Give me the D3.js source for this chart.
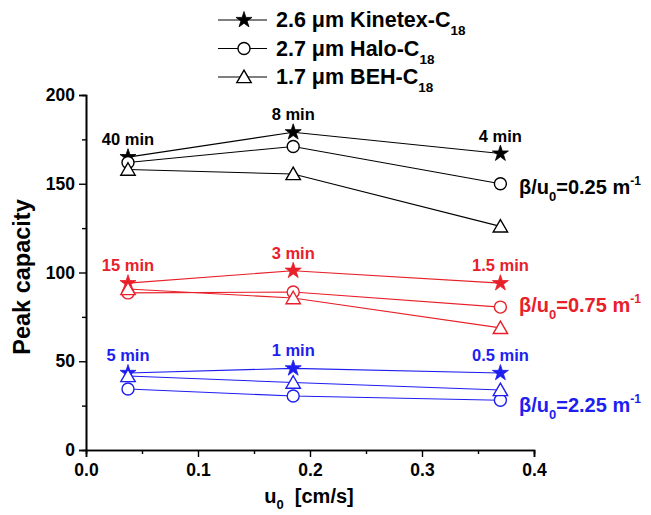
<!DOCTYPE html>
<html><head><meta charset="utf-8">
<script src="https://cdn.jsdelivr.net/npm/d3@7"></script>
<style>body{margin:0;background:#fff}text{font-family:Arial,"Liberation Sans",sans-serif;font-weight:bold}</style>
</head><body><svg id="c" width="651" height="515"></svg>
<script>
const uValues = [0.0375, 0.185, 0.37];
const groupNames = ["0.25", "0.75", "2.25"];
const groupColors = ["#000000", "#e8202a", "#1e1ef0"];
const timeLabels = [["40 min","8 min","4 min"],["15 min","3 min","1.5 min"],["5 min","1 min","0.5 min"]];
const kinetex = [[165,179,167],[94,101,94],[43.4,46,43.4]];
const halo = [[162,171,150],[88.5,89,80.5],[34.4,30.4,28]];
const beh = [[158,155.5,126],[90.7,85.6,68.8],[41.7,38,33.8]];
const xTicks = [0,0.1,0.2,0.3,0.4];
const yTicks = [0,50,100,150,200];
const legendNames = [["2.6 μm Kinetex-C","18"],["2.7 μm Halo-C","18"],["1.7 μm BEH-C","18"]];

const svg = d3.select("#c");
const x = d3.scaleLinear().domain([0,0.4]).range([86,534]);
const y = d3.scaleLinear().domain([0,200]).range([450,95]);

// axes
const gx = svg.append("g").attr("transform","translate(0,450)");
gx.call(d3.axisBottom(x).tickValues(xTicks).tickFormat(d3.format(".1f")).tickSize(7).tickPadding(3));
gx.append("g").call(d3.axisBottom(x).tickValues([0.05,0.15,0.25,0.35]).tickSize(4).tickFormat(""));
const gy = svg.append("g").attr("transform","translate(86,0)");
gy.call(d3.axisLeft(y).tickValues(yTicks).tickSize(7).tickPadding(4));
gy.append("g").call(d3.axisLeft(y).tickValues([25,75,125,175]).tickSize(4).tickFormat(""));
svg.selectAll(".domain").attr("stroke","#000").attr("stroke-width",1.6);
svg.selectAll(".tick line").attr("stroke","#000").attr("stroke-width",1.4);
svg.selectAll(".tick text").attr("font-size",17.5).attr("font-weight","bold").attr("font-family","Arial, 'Liberation Sans', sans-serif").attr("fill","#000");
gx.selectAll(".tick text").attr("dy","0.9em");

svg.append("text").attr("transform","translate(30,277) rotate(-90)").attr("text-anchor","middle").attr("font-size",23.5).text("Peak capacity");
const xt = svg.append("text").attr("x",309).attr("y",503).attr("text-anchor","middle").attr("font-size",20);
xt.append("tspan").text("u");
xt.append("tspan").attr("font-size",13).attr("dy",6).text("0");
xt.append("tspan").attr("dy",-6).text("\u00a0\u00a0[cm/s]");

const starPath = d3.symbol().type(d3.symbolStar).size(80)();
const triPath = d3.symbol().type(d3.symbolTriangle).size(90)();
const line = d3.line().x((d,i)=>x(uValues[i])).y(d=>y(d));

function drawMarker(g, type, cx, cy, col){
  if(type===0) g.append("path").attr("d",starPath).attr("transform",`translate(${cx},${cy})`).attr("fill",col).attr("stroke",col).attr("stroke-width",0.8);
  else if(type===1) g.append("circle").attr("cx",cx).attr("cy",cy).attr("r",6).attr("fill","#fff").attr("stroke",col).attr("stroke-width",1.4);
  else g.append("path").attr("d",triPath).attr("transform",`translate(${cx},${cy+1.5})`).attr("fill","#fff").attr("stroke",col).attr("stroke-width",1.4);
}

const labelAnchors = [144, 78, 21.5]; // value level of the β/u0 label baselines
const seriesAll = [kinetex, halo, beh];
groupNames.forEach((gname, gi)=>{
  const col = groupColors[gi];
  const g = svg.append("g");
  seriesAll.forEach(s=>{
    g.append("path").attr("d",line(s[gi])).attr("fill","none").attr("stroke",col).attr("stroke-width",1.1);
  });
  seriesAll.forEach((s,si)=>{
    s[gi].forEach((v,i)=>drawMarker(g, si, x(uValues[i]), y(v), col));
  });
  uValues.forEach((u,i)=>{
    const top = Math.max(kinetex[gi][i], halo[gi][i], beh[gi][i]);
    g.append("text").attr("x",x(u)).attr("y",y(top)-12).attr("text-anchor","middle").attr("font-size",16.5).attr("fill",col).text(timeLabels[gi][i]);
  });
  const t = g.append("text").attr("x",519).attr("y",y(labelAnchors[gi])).attr("font-size",20).attr("fill",col);
  t.append("tspan").text("β/u");
  t.append("tspan").attr("font-size",13).attr("dy",7).text("0");
  t.append("tspan").attr("dy",-7).text("=" + gname + " m");
  t.append("tspan").attr("font-size",12).attr("dy",-9).text("-1");
});

// legend
legendNames.forEach((nm,i)=>{
  const ly = 20 + i*28.5;
  const g = svg.append("g");
  g.append("line").attr("x1",218).attr("x2",267).attr("y1",ly).attr("y2",ly).attr("stroke","#000").attr("stroke-width",1.2);
  drawMarker(g, i, 244, ly, "#000");
  const t = g.append("text").attr("x",276).attr("y",ly+7).attr("font-size",21.5).attr("fill","#000");
  t.append("tspan").text(nm[0]);
  t.append("tspan").attr("font-size",13.5).attr("dy",8).text(nm[1]);
});
</script></body></html>
